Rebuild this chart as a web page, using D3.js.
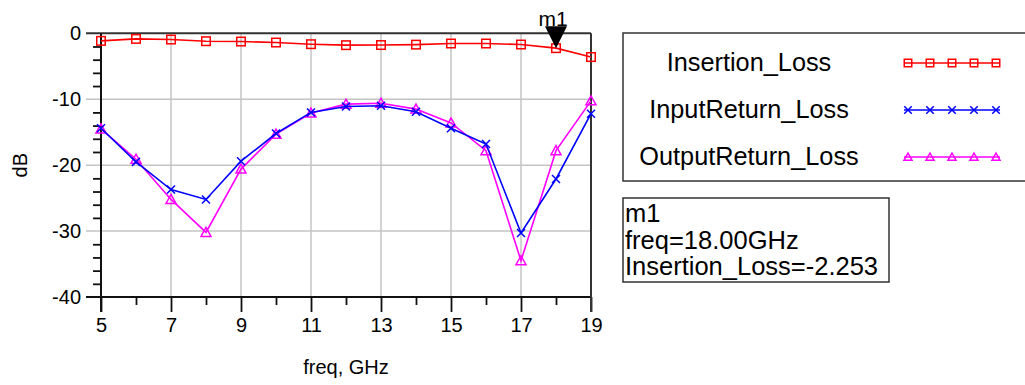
<!DOCTYPE html>
<html>
<head>
<meta charset="utf-8">
<script src="https://cdn.jsdelivr.net/npm/d3@7"></script>
<style>
  html, body { margin: 0; padding: 0; background: #fff; }
  svg { display: block; font-family: "Liberation Sans", Arial, sans-serif; }
</style>
</head>
<body>
<svg id="chart" width="1025" height="385"></svg>
<script>
// Frequency sweep points (GHz)
const freq = [5, 6, 7, 8, 9, 10, 11, 12, 13, 14, 15, 16, 17, 18, 19];

// S-parameter magnitudes (dB)
const insertionLoss = [-1.15, -0.85, -0.95, -1.2, -1.25, -1.4, -1.65, -1.8, -1.78, -1.72, -1.55, -1.55, -1.7, -2.253, -3.6];
const inputReturnLoss = [-14.4, -19.5, -23.7, -25.2, -19.4, -15.2, -12.0, -11.1, -11.0, -11.9, -14.4, -16.8, -30.3, -22.1, -12.2];
const outputReturnLoss = [-14.5, -19.1, -25.2, -30.2, -20.6, -15.3, -12.1, -10.75, -10.6, -11.5, -13.6, -17.8, -34.5, -17.8, -10.25];

const seriesNames = ["Insertion_Loss", "InputReturn_Loss", "OutputReturn_Loss"];

// Axis ticks
const xMajorTicks = [5, 7, 9, 11, 13, 15, 17, 19];
const xMinorTicks = [6, 8, 10, 12, 14, 16, 18];
const yMajorTicks = [0, -10, -20, -30, -40];
const yMinorTicks = [-2, -4, -6, -8, -12, -14, -16, -18, -22, -24, -26, -28, -32, -34, -36, -38];

// Marker readout
const markerName = "m1";
const markerFreq = 18;
const markerValue = -2.253;

const svg = d3.select("#chart");
const plotLeft = 101, plotRight = 591, plotTop = 33.3, plotBottom = 297;

const x = d3.scaleLinear().domain([5, 19]).range([plotLeft, plotRight]);
const y = d3.scaleLinear().domain([-40, 0]).range([plotBottom, plotTop]);

const axisColor = "#111";
const gridColor = "#c4c4c4";
const plainNumber = d => String(d);

// Grid lines
svg.append("g").selectAll("line")
  .data(xMajorTicks.filter(d => d > 5 && d < 19))
  .join("line")
  .attr("x1", d => x(d)).attr("x2", d => x(d))
  .attr("y1", plotTop).attr("y2", plotBottom)
  .attr("stroke", gridColor).attr("stroke-width", 1.5);

svg.append("g").selectAll("line")
  .data(yMajorTicks.filter(d => d < 0 && d > -40))
  .join("line")
  .attr("x1", plotLeft - 15).attr("x2", plotRight)
  .attr("y1", d => y(d)).attr("y2", d => y(d))
  .attr("stroke", gridColor).attr("stroke-width", 1.5);

// Bottom axis: major ticks with labels, minor ticks without
const xAxis = svg.append("g")
  .attr("transform", `translate(0,${plotBottom})`)
  .call(d3.axisBottom(x).tickValues(xMajorTicks).tickSize(15).tickPadding(6).tickFormat(plainNumber));
xAxis.select(".domain").remove();
xAxis.selectAll(".tick line").attr("stroke", axisColor).attr("stroke-width", 1.8);
xAxis.selectAll(".tick text").attr("font-size", 20).attr("fill", "#000")
  .attr("font-family", "Liberation Sans, Arial, sans-serif");

const xMinor = svg.append("g")
  .attr("transform", `translate(0,${plotBottom})`)
  .call(d3.axisBottom(x).tickValues(xMinorTicks).tickSize(8).tickFormat(""));
xMinor.select(".domain").remove();
xMinor.selectAll(".tick line").attr("stroke", axisColor).attr("stroke-width", 1.8);

// Left axis
const yAxis = svg.append("g")
  .attr("transform", `translate(${plotLeft},0)`)
  .call(d3.axisLeft(y).tickValues(yMajorTicks).tickSize(0).tickPadding(20).tickFormat(plainNumber));
yAxis.select(".domain").remove();
yAxis.selectAll(".tick text").attr("font-size", 20).attr("fill", "#000")
  .attr("font-family", "Liberation Sans, Arial, sans-serif");

const yMinor = svg.append("g")
  .attr("transform", `translate(${plotLeft},0)`)
  .call(d3.axisLeft(y).tickValues(yMinorTicks).tickSize(8).tickFormat(""));
yMinor.select(".domain").remove();
yMinor.selectAll(".tick line").attr("stroke", axisColor).attr("stroke-width", 1.8);

// Frame: top/bottom lines reaching past the left axis, axis line and right edge
svg.append("line").attr("x1", plotLeft - 15).attr("x2", plotRight).attr("y1", y(0)).attr("y2", y(0))
  .attr("stroke", "#333").attr("stroke-width", 2);
svg.append("line").attr("x1", plotLeft - 15).attr("x2", plotRight).attr("y1", y(-40)).attr("y2", y(-40))
  .attr("stroke", axisColor).attr("stroke-width", 2);
svg.append("line").attr("x1", plotLeft).attr("x2", plotLeft).attr("y1", plotTop).attr("y2", plotBottom + 15)
  .attr("stroke", axisColor).attr("stroke-width", 2);
svg.append("line").attr("x1", plotRight).attr("x2", plotRight).attr("y1", plotTop).attr("y2", plotBottom + 15)
  .attr("stroke", "#333").attr("stroke-width", 2);

// Axis titles
svg.append("text").attr("x", x(12)).attr("y", 374).attr("text-anchor", "middle")
  .attr("font-size", 20).text("freq, GHz");
svg.append("text").attr("transform", `translate(27,${y(-20)}) rotate(-90)`)
  .attr("text-anchor", "middle").attr("font-size", 20).text("dB");

// Marker shapes
function drawMarker(g, shape, color, cx, cy, s) {
  if (shape === "square") {
    g.append("rect").attr("x", cx - s / 2).attr("y", cy - s / 2).attr("width", s).attr("height", s)
      .attr("fill", "none").attr("stroke", color).attr("stroke-width", 1.5);
  } else if (shape === "cross") {
    const h = s / 2;
    g.append("path").attr("d", `M${cx - h},${cy - h}L${cx + h},${cy + h}M${cx - h},${cy + h}L${cx + h},${cy - h}`)
      .attr("fill", "none").attr("stroke", color).attr("stroke-width", 1.5);
  } else {
    const h = s / 2;
    g.append("path").attr("d", `M${cx},${cy - h}L${cx + h},${cy + h * 0.8}L${cx - h},${cy + h * 0.8}Z`)
      .attr("fill", "none").attr("stroke", color).attr("stroke-width", 1.5);
  }
}

const series = [
  { name: seriesNames[0], values: insertionLoss, color: "#ff0000", shape: "square", size: 8.5 },
  { name: seriesNames[1], values: inputReturnLoss, color: "#0000ff", shape: "cross", size: 8 },
  { name: seriesNames[2], values: outputReturnLoss, color: "#ff00ff", shape: "triangle", size: 10 }
];

const line = d3.line().x(d => x(d[0])).y(d => y(d[1]));

// Draw return losses first so insertion loss sits on top
[series[2], series[1], series[0]].forEach(s => {
  const pts = freq.map((f, i) => [f, s.values[i]]);
  svg.append("path").datum(pts).attr("d", line)
    .attr("fill", "none").attr("stroke", s.color).attr("stroke-width", 1.6);
  const g = svg.append("g");
  pts.forEach(p => drawMarker(g, s.shape, s.color, x(p[0]), y(p[1]), s.size));
});

// Marker m1 on Insertion_Loss
const mx = x(markerFreq), my = y(markerValue);
svg.append("path")
  .attr("d", `M${mx - 11},${my - 22}L${mx + 11},${my - 22}L${mx},${my}Z`)
  .attr("fill", "#000");
svg.append("text").attr("x", mx - 3).attr("y", my - 22).attr("text-anchor", "middle")
  .attr("font-size", 21).text(markerName);

// Legend
svg.append("rect").attr("x", 623).attr("y", 33).attr("width", 420).attr("height", 148)
  .attr("fill", "none").attr("stroke", "#333").attr("stroke-width", 1.5);
series.forEach((s, i) => {
  const ly = 63 + i * 47;
  svg.append("text").attr("x", 749).attr("y", ly + 8).attr("text-anchor", "middle")
    .attr("font-size", 25.3).text(s.name);
  svg.append("line").attr("x1", 904).attr("x2", 1000).attr("y1", ly).attr("y2", ly)
    .attr("stroke", s.color).attr("stroke-width", 1.5);
  const g = svg.append("g");
  d3.range(5).forEach(k => drawMarker(g, s.shape, s.color, 908 + k * 22, ly, s.shape === "triangle" ? 8 : 7.5));
});

// Marker readout box
svg.append("rect").attr("x", 623).attr("y", 198).attr("width", 266).attr("height", 84)
  .attr("fill", "none").attr("stroke", "#333").attr("stroke-width", 1.5);
const readout = [
  markerName,
  `freq=${markerFreq.toFixed(2)}GHz`,
  `${seriesNames[0]}=${markerValue.toFixed(3)}`
];
readout.forEach((t, i) => {
  svg.append("text").attr("x", 625).attr("y", 222 + i * 26.5).attr("font-size", 25.5).text(t);
});
</script>
</body>
</html>
